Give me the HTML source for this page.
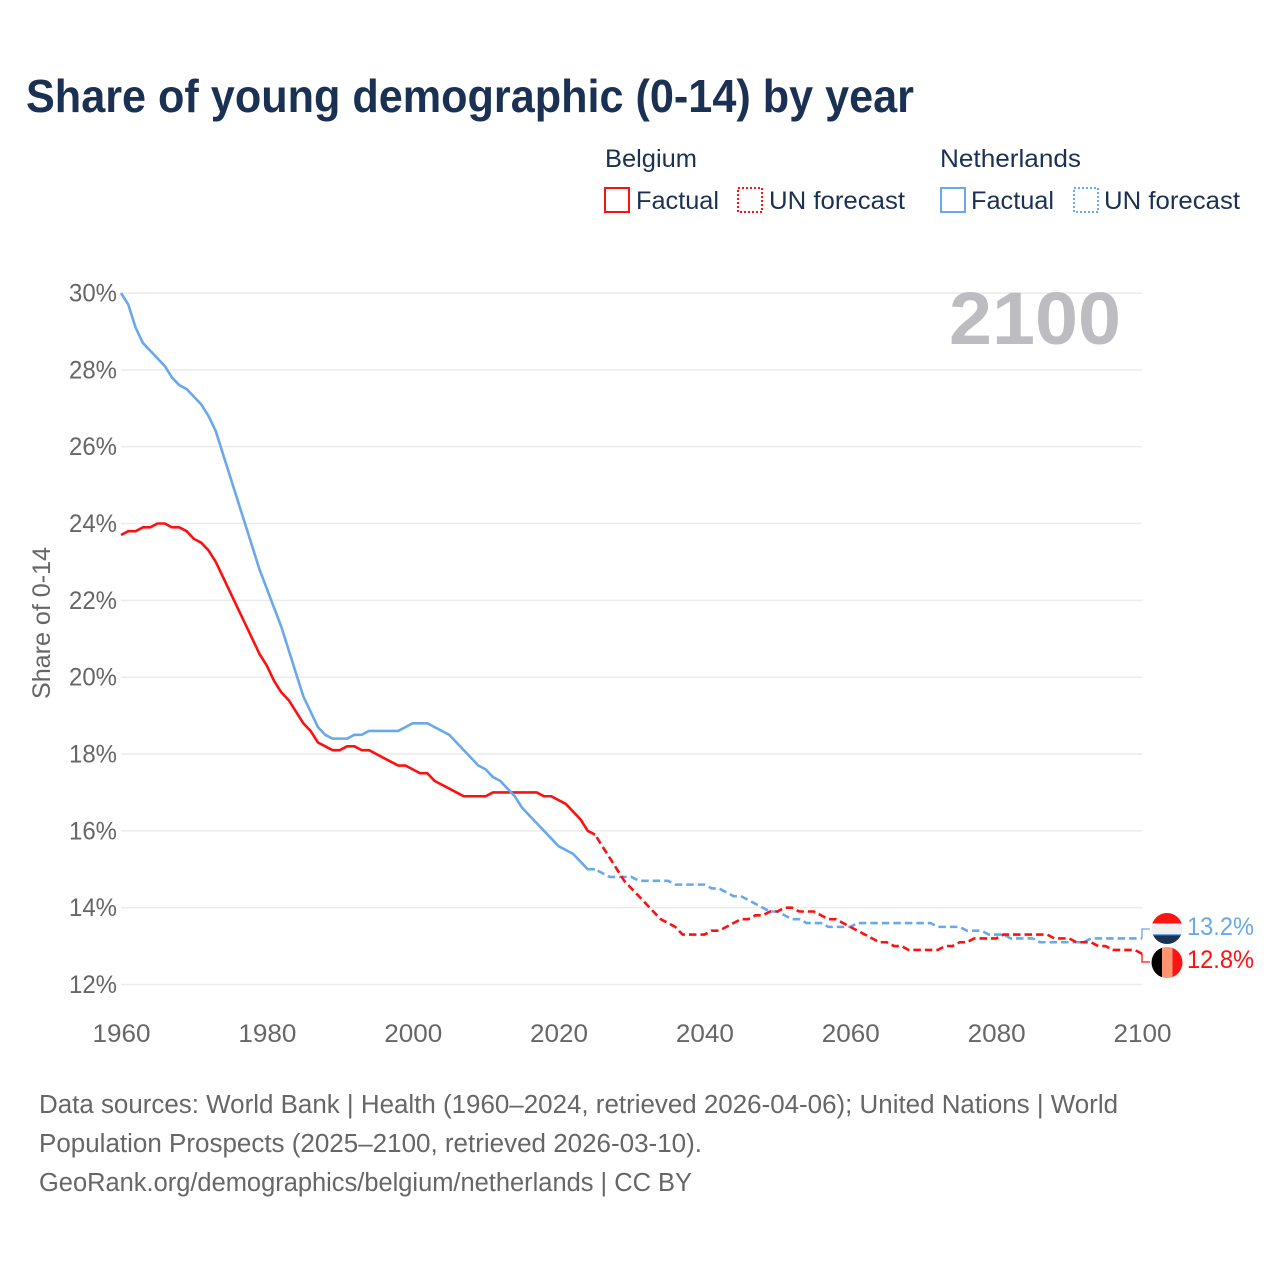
<!DOCTYPE html>
<html lang="en">
<head>
<meta charset="utf-8">
<title>Share of young demographic (0-14) by year</title>
<style>
  html, body { margin: 0; padding: 0; background: #fff; }
  svg { display: block; }
  text { font-family: "Liberation Sans", sans-serif; }
</style>
</head>
<body>
<svg id="chart" xmlns="http://www.w3.org/2000/svg" width="1280" height="1280" viewBox="0 0 1280 1280">
  <rect width="1280" height="1280" fill="#ffffff"/>
  <defs>
    <clipPath id="clip-nl"><circle cx="1167" cy="928.5" r="15.5"/></clipPath>
    <clipPath id="clip-be"><circle cx="1167" cy="962.5" r="15.5"/></clipPath>
  </defs>

  <text x="26" y="112" font-size="46" font-weight="700" fill="#1a3153" textLength="888" lengthAdjust="spacingAndGlyphs">Share of young demographic (0-14) by year</text>

  <g fill="#1a3153" font-size="25">
    <text x="605" y="167" textLength="92" lengthAdjust="spacingAndGlyphs">Belgium</text>
    <text x="940" y="167" textLength="141" lengthAdjust="spacingAndGlyphs">Netherlands</text>

    <rect x="605" y="188" width="24" height="24" fill="none" stroke="#ff1010" stroke-width="2"/>
    <text x="636" y="209" textLength="83" lengthAdjust="spacingAndGlyphs">Factual</text>
    <rect x="738" y="188" width="24" height="24" fill="none" stroke="#ff1010" stroke-width="2" stroke-dasharray="2 2"/>
    <text x="769" y="209" textLength="136" lengthAdjust="spacingAndGlyphs">UN forecast</text>

    <rect x="941" y="188" width="24" height="24" fill="none" stroke="#69a8ea" stroke-width="2"/>
    <text x="971" y="209" textLength="83" lengthAdjust="spacingAndGlyphs">Factual</text>
    <rect x="1074" y="188" width="24" height="24" fill="none" stroke="#69a8ea" stroke-width="2" stroke-dasharray="2 2"/>
    <text x="1104" y="209" textLength="136" lengthAdjust="spacingAndGlyphs">UN forecast</text>
  </g>

  <text transform="translate(50,623) rotate(-90)" text-anchor="middle" font-size="25" fill="#666666" textLength="152" lengthAdjust="spacingAndGlyphs">Share of 0-14</text>

  <g id="grid"></g>
  <g id="y-ticks"></g>
  <g id="x-ticks"></g>

  <text x="949" y="344" font-size="74" font-weight="700" fill="#bdbdc1" textLength="172" lengthAdjust="spacingAndGlyphs">2100</text>

  <g id="series"></g>

  <g clip-path="url(#clip-nl)">
    <rect x="1150" y="912" width="34" height="11.5" fill="#ff1414"/>
    <rect x="1150" y="923.5" width="34" height="10.5" fill="#f0f0f0"/>
    <rect x="1150" y="934" width="34" height="1.2" fill="#69a8ea"/>
    <rect x="1150" y="935.2" width="34" height="10" fill="#1a3153"/>
  </g>
  <g clip-path="url(#clip-be)">
    <rect x="1150" y="946" width="12" height="34" fill="#000000"/>
    <rect x="1162" y="946" width="10.5" height="34" fill="#ff9470"/>
    <rect x="1172.5" y="946" width="12" height="34" fill="#ff1414"/>
  </g>
  <g id="end-labels"></g>

  <g font-size="25.5" fill="#666666">
    <text x="39" y="1113" textLength="1079" lengthAdjust="spacingAndGlyphs">Data sources: World Bank | Health (1960–2024, retrieved 2026-04-06); United Nations | World</text>
    <text x="39" y="1152" textLength="663" lengthAdjust="spacingAndGlyphs">Population Prospects (2025–2100, retrieved 2026-03-10).</text>
    <text x="39" y="1191" textLength="653" lengthAdjust="spacingAndGlyphs">GeoRank.org/demographics/belgium/netherlands | CC BY</text>
  </g>
</svg>

<script>
const yTickValues = [12, 14, 16, 18, 20, 22, 24, 26, 28, 30];
const xTickYears = [1960, 1980, 2000, 2020, 2040, 2060, 2080, 2100];
const factualStartYear = 1960;
const forecastStartYear = 2025;

const belgiumFactual = [
  23.7,23.8,23.8,23.9,23.9,24.0,24.0,23.9,23.9,23.8,
  23.6,23.5,23.3,23.0,22.6,22.2,21.8,21.4,21.0,20.6,
  20.3,19.9,19.6,19.4,19.1,18.8,18.6,18.3,18.2,18.1,
  18.1,18.2,18.2,18.1,18.1,18.0,17.9,17.8,17.7,17.7,
  17.6,17.5,17.5,17.3,17.2,17.1,17.0,16.9,16.9,16.9,
  16.9,17.0,17.0,17.0,17.0,17.0,17.0,17.0,16.9,16.9,
  16.8,16.7,16.5,16.3,16.0,15.9
];
const belgiumForecast = [
  15.9,15.6,15.3,15.0,14.7,
  14.5,14.3,14.1,13.9,13.7,13.6,13.5,13.3,13.3,13.3,
  13.3,13.4,13.4,13.5,13.6,13.7,13.7,13.8,13.8,13.9,
  13.9,14.0,14.0,13.9,13.9,13.9,13.8,13.7,13.7,13.6,
  13.5,13.4,13.3,13.2,13.1,13.1,13.0,13.0,12.9,12.9,
  12.9,12.9,12.9,13.0,13.0,13.1,13.1,13.2,13.2,13.2,
  13.2,13.3,13.3,13.3,13.3,13.3,13.3,13.3,13.2,13.2,
  13.2,13.1,13.1,13.1,13.0,13.0,12.9,12.9,12.9,12.9,
  12.8
];
const netherlandsFactual = [
  30.0,29.7,29.1,28.7,28.5,28.3,28.1,27.8,27.6,27.5,
  27.3,27.1,26.8,26.4,25.8,25.2,24.6,24.0,23.4,22.8,
  22.3,21.8,21.3,20.7,20.1,19.5,19.1,18.7,18.5,18.4,
  18.4,18.4,18.5,18.5,18.6,18.6,18.6,18.6,18.6,18.7,
  18.8,18.8,18.8,18.7,18.6,18.5,18.3,18.1,17.9,17.7,
  17.6,17.4,17.3,17.1,16.9,16.6,16.4,16.2,16.0,15.8,
  15.6,15.5,15.4,15.2,15.0,15.0
];
const netherlandsForecast = [
  15.0,14.9,14.8,14.8,14.8,
  14.8,14.7,14.7,14.7,14.7,14.7,14.6,14.6,14.6,14.6,
  14.6,14.5,14.5,14.4,14.3,14.3,14.2,14.1,14.0,13.9,
  13.9,13.8,13.7,13.7,13.6,13.6,13.6,13.5,13.5,13.5,
  13.5,13.6,13.6,13.6,13.6,13.6,13.6,13.6,13.6,13.6,
  13.6,13.6,13.5,13.5,13.5,13.5,13.4,13.4,13.4,13.3,
  13.3,13.3,13.2,13.2,13.2,13.2,13.1,13.1,13.1,13.1,
  13.1,13.1,13.1,13.2,13.2,13.2,13.2,13.2,13.2,13.2,
  13.2
];

const SVG_NS = 'http://www.w3.org/2000/svg';
const RED = '#ff1010';
const BLUE = '#69a8ea';

function xScale(year) { return 121 + (year - 1960) * (1142 - 121) / 140; }
function yScale(value) { return 984.5 - (value - 12) * (984.5 - 293) / 18; }

function make(tag, parent, attrs) {
  const el = document.createElementNS(SVG_NS, tag);
  for (const k in attrs) el.setAttribute(k, attrs[k]);
  parent.appendChild(el);
  return el;
}

function linePath(values, startYear) {
  return values.map(function (v, i) {
    return (i ? 'L' : 'M') + xScale(startYear + i).toFixed(2) + ' ' + yScale(v).toFixed(2);
  }).join(' ');
}

const gridG = document.getElementById('grid');
const yTicksG = document.getElementById('y-ticks');
yTickValues.forEach(function (v) {
  const line = make('line', gridG, { x1: 121, x2: 1142, y1: yScale(v), y2: yScale(v), stroke: '#ececec', 'stroke-width': 1.5 });
  
  
  const label = make('text', yTicksG, { x: 117, y: yScale(v) + 8.5, 'text-anchor': 'end', 'font-size': 25, fill: '#666666', textLength: 48, lengthAdjust: 'spacingAndGlyphs' });
  
  
  label.textContent = v + '%';
});

const xTicksG = document.getElementById('x-ticks');
xTickYears.forEach(function (year) {
  const label = make('text', xTicksG, { x: xScale(year) + 0.5, y: 1042, 'text-anchor': 'middle', 'font-size': 25, fill: '#666666', textLength: 58, lengthAdjust: 'spacingAndGlyphs' });
  
  
  label.textContent = year;
});

const seriesG = document.getElementById('series');

const beFactualLine = make('path', seriesG, { d: linePath(belgiumFactual, factualStartYear), fill: 'none', stroke: RED, 'stroke-width': 2.6, 'stroke-linejoin': 'round' });



const nlForecastLine = make('path', seriesG, { d: linePath(netherlandsForecast, forecastStartYear), fill: 'none', stroke: BLUE, 'stroke-width': 2.6, 'stroke-dasharray': '7.5 4', 'stroke-dashoffset': -3 });



const beForecastLine = make('path', seriesG, { d: linePath(belgiumForecast, forecastStartYear), fill: 'none', stroke: RED, 'stroke-width': 2.6, 'stroke-dasharray': '7.5 4', 'stroke-dashoffset': -3 });



const nlFactualLine = make('path', seriesG, { d: linePath(netherlandsFactual, factualStartYear), fill: 'none', stroke: BLUE, 'stroke-width': 2.6, 'stroke-linejoin': 'round' });



const endG = document.getElementById('end-labels');
const nlLast = netherlandsForecast[netherlandsForecast.length - 1];
const beLast = belgiumForecast[belgiumForecast.length - 1];

const nlConnector = make('path', endG, { d: 'M1142 ' + yScale(nlLast) + ' V929 H1150', fill: 'none', stroke: BLUE, 'stroke-width': 1.3 });



const beConnector = make('path', endG, { d: 'M1142 ' + yScale(beLast) + ' V962 H1150', fill: 'none', stroke: RED, 'stroke-width': 1.3 });



const nlEndLabel = make('text', endG, { x: 1187, y: 935, 'font-size': 25, fill: BLUE, textLength: 67, lengthAdjust: 'spacingAndGlyphs' });


nlEndLabel.textContent = nlLast.toFixed(1) + '%';

const beEndLabel = make('text', endG, { x: 1187, y: 968, 'font-size': 25, fill: RED, textLength: 67, lengthAdjust: 'spacingAndGlyphs' });


beEndLabel.textContent = beLast.toFixed(1) + '%';
</script>
</body>
</html>
